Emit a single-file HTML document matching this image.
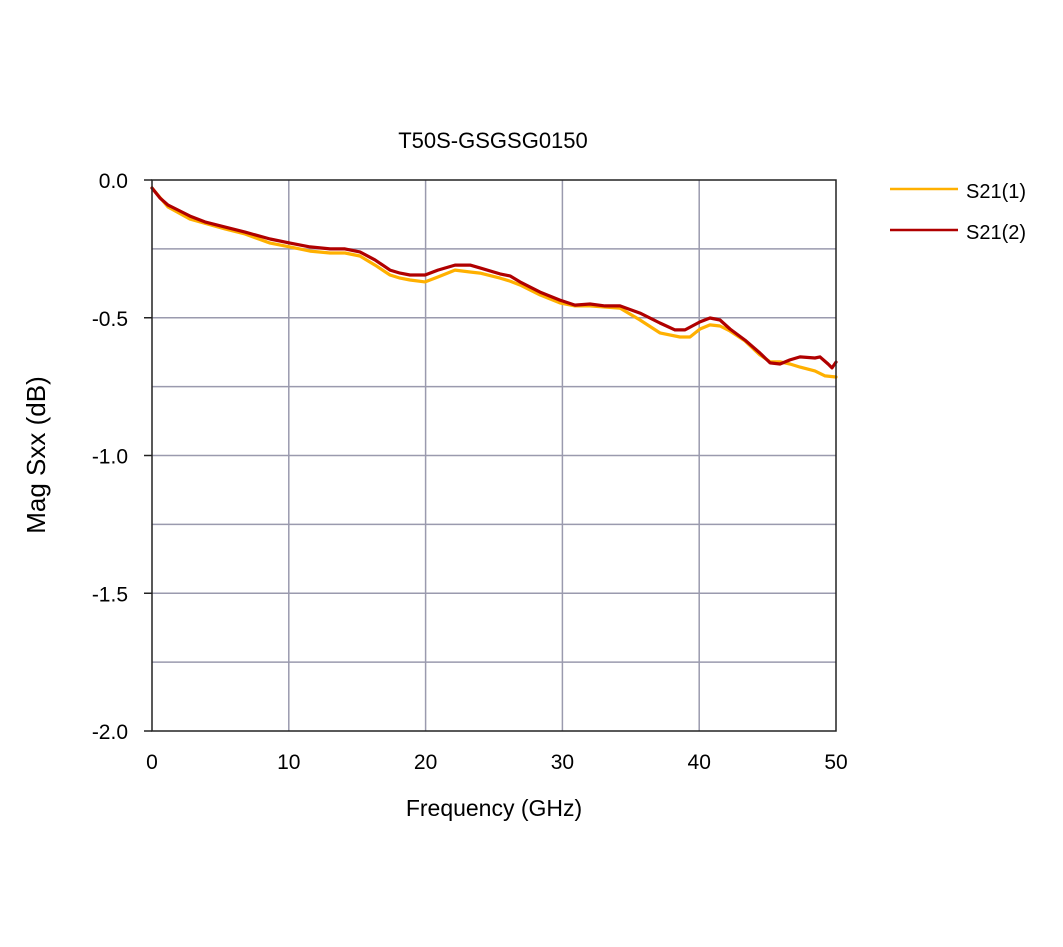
<!DOCTYPE html>
<html><head><meta charset="utf-8"><style>
html,body{margin:0;padding:0;background:#fff;}
svg{display:block;font-family:"Liberation Sans",sans-serif;}
</style></head><body>
<svg id="chart" width="1063" height="947">
<text x="493" y="148" font-size="22" text-anchor="middle" fill="#000">T50S-GSGSG0150</text>
<text transform="translate(45,455) rotate(-90)" font-size="26" text-anchor="middle" fill="#000">Mag Sxx (dB)</text>
<text x="494" y="816" font-size="23" text-anchor="middle" fill="#000">Frequency (GHz)</text>
<g id="grid"></g>
<g id="ticks"></g>
<g id="series"></g>
<rect x="152" y="180" width="684" height="551" fill="none" stroke="#222" stroke-width="1.5"/>
<g>
<g>
<line x1="890" y1="189" x2="958" y2="189" stroke="#FFB000" stroke-width="2.5"/>
<text x="966" y="198" font-size="20" fill="#000">S21(1)</text></g>
<g>
<line x1="890" y1="230" x2="958" y2="230" stroke="#B00000" stroke-width="2.5"/>
<text x="966" y="239" font-size="20" fill="#000">S21(2)</text></g>
</g>
</svg>
<script>
const xTicks=[0,10,20,30,40,50];
const yTicks=[0,-0.5,-1.0,-1.5,-2.0];
const yTickLabels=["0.0","-0.5","-1.0","-1.5","-2.0"];
const yGrid=[-0.25,-0.5,-0.75,-1.0,-1.25,-1.5,-1.75];
const freq1=[0,1.17,2.78,5.34,6.8,8.63,10.09,11.55,13.01,14.11,15.2,16.3,17.4,18.13,18.86,19.96,20.9,22.15,23.25,23.98,25.44,26.17,26.9,28.36,29.82,30.92,32.02,33.11,34.21,35.67,37.13,38.6,39.33,40.06,40.79,41.52,42.25,43.35,44.44,45.18,45.91,46.64,47.37,48.46,49.2,50];
const s21_1=[-0.029,-0.098,-0.142,-0.178,-0.196,-0.229,-0.243,-0.258,-0.265,-0.265,-0.276,-0.309,-0.345,-0.356,-0.363,-0.370,-0.352,-0.327,-0.334,-0.338,-0.356,-0.367,-0.381,-0.417,-0.446,-0.457,-0.457,-0.461,-0.465,-0.508,-0.555,-0.570,-0.570,-0.541,-0.526,-0.530,-0.548,-0.584,-0.635,-0.660,-0.660,-0.668,-0.679,-0.693,-0.711,-0.715];
const freq2=[0,0.58,1.17,1.9,2.78,3.87,5.34,6.8,8.63,10.09,11.55,13.01,14.11,15.2,16.3,17.4,18.13,18.86,19.96,20.9,22.15,23.25,23.98,25.44,26.17,26.9,28.36,29.82,30.92,32.02,33.11,34.21,35.67,37.13,38.23,38.96,40.06,40.79,41.52,42.25,43.35,44.44,45.18,45.91,46.64,47.37,48.46,48.83,49.42,49.71,50];
const s21_2=[-0.029,-0.065,-0.091,-0.109,-0.131,-0.152,-0.171,-0.189,-0.214,-0.229,-0.243,-0.250,-0.250,-0.261,-0.290,-0.327,-0.338,-0.345,-0.345,-0.327,-0.309,-0.309,-0.319,-0.341,-0.348,-0.370,-0.407,-0.436,-0.454,-0.450,-0.457,-0.457,-0.483,-0.519,-0.544,-0.544,-0.515,-0.501,-0.508,-0.541,-0.581,-0.628,-0.664,-0.668,-0.653,-0.642,-0.646,-0.642,-0.668,-0.682,-0.661];
const NS="http://www.w3.org/2000/svg";
const X0=152,X1=836,Y0=180,Y1=731;
function xs(v){return X0+(v-0)/(50-0)*(X1-X0);}
function ys(v){return Y0+(0-v)/(0-(-2))*(Y1-Y0);}
function mk(tag,attrs,parent){const e=document.createElementNS(NS,tag);for(const k in attrs)e.setAttribute(k,attrs[k]);parent.appendChild(e);return e;}
const grid=document.getElementById('grid'),ticks=document.getElementById('ticks'),series=document.getElementById('series');
xTicks.forEach(v=>{
 if(v>0&&v<50){const l=mk('line',{x1:xs(v),x2:xs(v),y1:Y0,y2:Y1,stroke:'#9a9aae','stroke-width':1.5},grid);
 
 }
 const t=mk('text',{x:xs(v),y:Y1+38,'font-size':21,'text-anchor':'middle',fill:'#000'},ticks);
 t.textContent=v;
 
 
});
yGrid.forEach(v=>{
 const l=mk('line',{x1:X0,x2:X1,y1:ys(v),y2:ys(v),stroke:'#9a9aae','stroke-width':1.5},grid);
 
 
});
yTicks.forEach((v,i)=>{
 const tk=mk('line',{x1:X0-8,x2:X0,y1:ys(v),y2:ys(v),stroke:'#222','stroke-width':1.5},grid);
 
 
 const t=mk('text',{x:X0-24,y:ys(v)+8,'font-size':21,'text-anchor':'end',fill:'#000'},ticks);
 t.textContent=yTickLabels[i];
 
 
});
function line(fx,fy,color,name){
 const d=fx.map((f,i)=>(i?'L':'M')+xs(f).toFixed(1)+','+ys(fy[i]).toFixed(1)).join(' ');
 const p=mk('path',{d:d,fill:'none',stroke:color,'stroke-width':3.2,'stroke-linejoin':'round','stroke-linecap':'round'},series);
 
 
}
line(freq1,s21_1,'#FFB000','line-s21-1');
line(freq2,s21_2,'#B00000','line-s21-2');
</script>
</body></html>
